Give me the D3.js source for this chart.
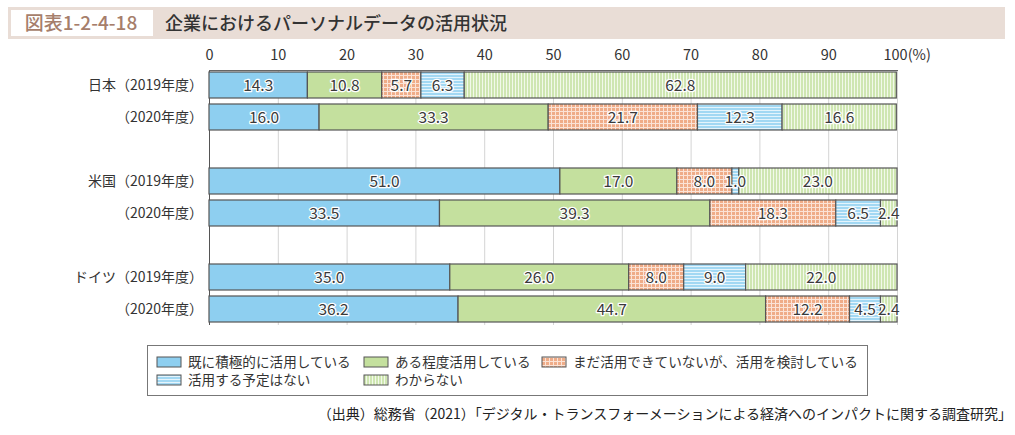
<!DOCTYPE html>
<html><head><meta charset="utf-8">
<script src="https://cdn.jsdelivr.net/npm/d3@7"></script>
<style>
body{margin:0;background:#fff;}
text{font-family:"Noto Sans CJK JP","Noto Sans",sans-serif;}
</style></head>
<body><svg id="c" width="1015" height="435"></svg>
<script>
const rowLabels = ["日本（2019年度）","（2020年度）","","米国（2019年度）","（2020年度）","","ドイツ（2019年度）","（2020年度）"];
const seriesNames = ["既に積極的に活用している","ある程度活用している","まだ活用できていないが、活用を検討している","活用する予定はない","わからない"];
const activeUse   = [14.3,16.0,null,51.0,33.5,null,35.0,36.2];
const someUse     = [10.8,33.3,null,17.0,39.3,null,26.0,44.7];
const considering = [5.7,21.7,null,8.0,18.3,null,8.0,12.2];
const noPlan      = [6.3,12.3,null,1.0,6.5,null,9.0,4.5];
const unknown     = [62.8,16.6,null,23.0,2.4,null,22.0,2.4];
const xTicks = [0,10,20,30,40,50,60,70,80,90,100];
const titleNo = "図表1-2-4-18";
const titleText = "企業におけるパーソナルデータの活用状況";
const source = "（出典）総務省（2021）「デジタル・トランスフォーメーションによる経済へのインパクトに関する調査研究」";

const series = [activeUse, someUse, considering, noPlan, unknown];
const fills = ["#8ecff0","#c4e09e","url(#pOrange)","url(#pBlue)","url(#pGreen)"];

const svg = d3.select("#c");
const defs = svg.append("defs");
const pO = defs.append("pattern").attr("id","pOrange").attr("patternUnits","userSpaceOnUse").attr("width",4).attr("height",4);
pO.append("rect").attr("width",4).attr("height",4).attr("fill","#efac88");
pO.append("rect").attr("x",3).attr("width",1).attr("height",4).attr("fill","#fbe3d6");
pO.append("rect").attr("y",3).attr("width",4).attr("height",1).attr("fill","#fbe3d6");
const pB = defs.append("pattern").attr("id","pBlue").attr("patternUnits","userSpaceOnUse").attr("width",4).attr("height",3);
pB.append("rect").attr("width",4).attr("height",3).attr("fill","#a2d8f3");
pB.append("rect").attr("y",2).attr("width",4).attr("height",1).attr("fill","#e4f4fc");
const pG = defs.append("pattern").attr("id","pGreen").attr("patternUnits","userSpaceOnUse").attr("width",3).attr("height",4);
pG.append("rect").attr("width",3).attr("height",4).attr("fill","#cfe6b2");
pG.append("rect").attr("x",2).attr("width",1).attr("height",4).attr("fill","#f2f9ea");

// title
svg.append("rect").attr("x",8).attr("y",7).attr("width",997).attr("height",32).attr("fill","#e9ddd6");
svg.append("rect").attr("x",11).attr("y",10).attr("width",142).attr("height",26).attr("fill","#fff");
svg.append("text").attr("x",81).attr("y",30).attr("text-anchor","middle").attr("font-size",19).attr("font-weight",500).attr("fill","#a67e6b").text(titleNo);
svg.append("text").attr("x",165).attr("y",30).attr("font-size",18).attr("font-weight",500).attr("fill","#333").text(titleText);

const x = d3.scaleLinear().domain([0,100]).range([209,897]);
const y = d3.scaleBand().domain(d3.range(rowLabels.length)).range([69,325]).paddingInner(0.1875).paddingOuter(0.09375);

// grid
svg.append("g").selectAll("line").data(xTicks).join("line")
  .attr("x1",d=>x(d)+0.5).attr("x2",d=>x(d)+0.5).attr("y1",70).attr("y2",325)
  .attr("stroke",d=>(d===0)?"#555":"#d4d4d4").attr("stroke-width",1);
svg.append("line").attr("x1",x(0)).attr("x2",x(100)+1).attr("y1",70.5).attr("y2",70.5).attr("stroke","#666");

// x tick labels
const ax = svg.append("g").attr("transform","translate(0,63)").call(d3.axisTop(x).tickValues(xTicks).tickSize(0).tickFormat(d=>d===100?"100(%)":d));
ax.select(".domain").remove();
ax.selectAll("text").attr("font-size",14.5).attr("fill","#333").style("font-family",'"Noto Sans CJK JP",sans-serif');
ax.selectAll(".tick").filter(d=>d===100).select("text").attr("text-anchor","start").attr("dx",-14);

// row labels
svg.append("g").selectAll("text").data(rowLabels).join("text")
  .attr("x",203).attr("y",(d,i)=>y(i)+y.bandwidth()/2+5)
  .attr("text-anchor","end").attr("font-size",14).attr("fill","#333").text(d=>d);

// bars
const segs = [];
rowLabels.forEach((r,i)=>{
  let acc=0;
  series.forEach((s,k)=>{
    const v=s[i]; if(v==null) return;
    segs.push({i,k,x0:acc,x1:acc+v,v}); acc+=v;
  });
});
const g = svg.append("g");
g.selectAll("rect").data(segs).join("rect")
  .attr("x",d=>x(d.x0)).attr("width",d=>x(d.x1)-x(d.x0))
  .attr("y",d=>y(d.i)).attr("height",y.bandwidth())
  .attr("fill",d=>fills[d.k]).attr("stroke","#555").attr("stroke-width",1.2);
g.selectAll("text").data(segs).join("text")
  .attr("x",d=>{const c=(x(d.x0)+x(d.x1))/2; return d.v<3 ? Math.min(c, 889) : c;})
  .attr("y",d=>y(d.i)+y.bandwidth()/2+5.5)
  .attr("text-anchor","middle").attr("font-size",15.5)
  .attr("fill","#3a3a3a").attr("stroke","#fff").attr("stroke-width",2.5).attr("paint-order","stroke")
  .attr("stroke-linejoin","round")
  .text(d=>d.v.toFixed(1));

// legend
svg.append("rect").attr("x",147.5).attr("y",345.5).attr("width",720).attr("height",50).attr("fill","#fff").attr("stroke","#777");
const legPos = [[157,362],[364,362],[542,362],[157,380],[364,380]];
const lg = svg.append("g").selectAll("g").data(seriesNames).join("g")
  .attr("transform",(d,i)=>`translate(${legPos[i][0]},${legPos[i][1]})`);
lg.append("rect").attr("x",0).attr("y",-5).attr("width",24).attr("height",10).attr("fill",(d,i)=>fills[i]).attr("stroke","#555").attr("stroke-width",1);
lg.append("text").attr("x",31).attr("y",5).attr("font-size",13.6).attr("fill","#333").text(d=>d);

// source
svg.append("text").attr("x",1012).attr("y",419).attr("text-anchor","end").attr("font-size",14).attr("fill","#222").text(source);
</script></body></html>
